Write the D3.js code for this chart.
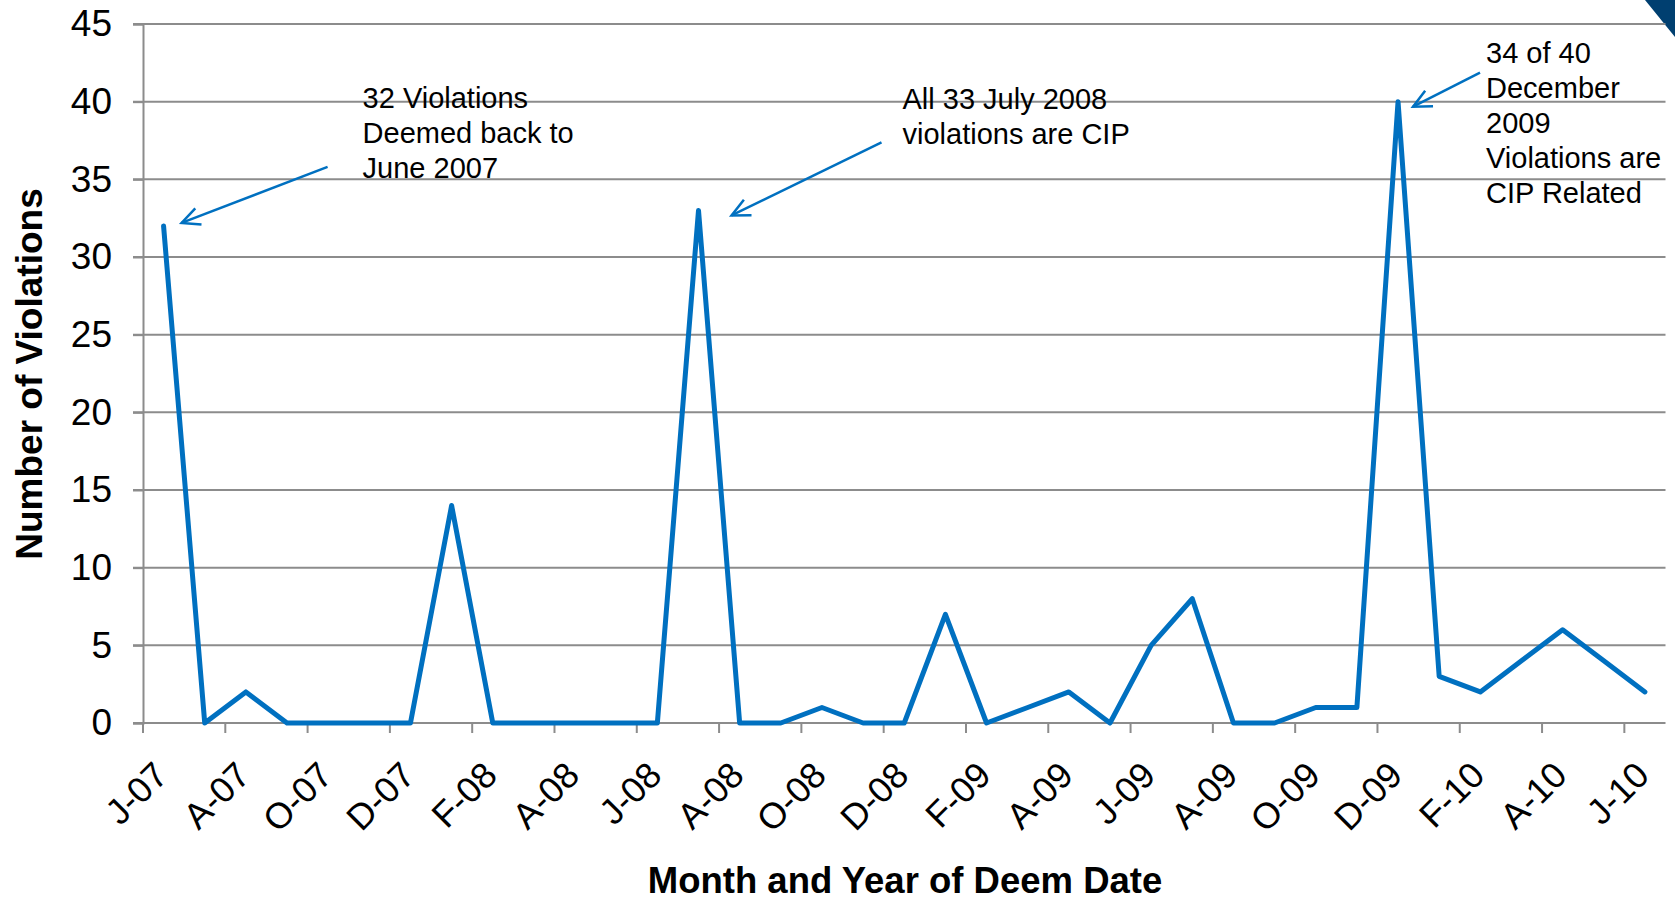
<!DOCTYPE html>
<html>
<head>
<meta charset="utf-8">
<script src="https://cdn.jsdelivr.net/npm/d3@7"></script>
<style>
  body { margin: 0; background: #fff; }
  svg { display: block; font-family: "Liberation Sans", Arial, sans-serif; }
</style>
</head>
<body>
<div id="chart"></div>
<script>
(function () {

  // monthly deem dates, June 2007 through June 2010
  const months = ['Jun-07','Jul-07','Aug-07','Sep-07','Oct-07','Nov-07','Dec-07',
    'Jan-08','Feb-08','Mar-08','Apr-08','May-08','Jun-08','Jul-08','Aug-08','Sep-08','Oct-08','Nov-08','Dec-08',
    'Jan-09','Feb-09','Mar-09','Apr-09','May-09','Jun-09','Jul-09','Aug-09','Sep-09','Oct-09','Nov-09','Dec-09',
    'Jan-10','Feb-10','Mar-10','Apr-10','May-10','Jun-10']

  const violations = [32, 0, 2, 0, 0, 0, 0,
    14, 0, 0, 0, 0, 0, 33, 0, 0, 1, 0, 0,
    7, 0, 1, 2, 0, 5, 8, 0, 0, 1, 1, 40,
    3, 2, 4, 6, 4, 2]

  // every second month gets a label: first letter + year
  const tickLabels = ['J-07','A-07','O-07','D-07','F-08','A-08','J-08','A-08','O-08','D-08',
    'F-09','A-09','J-09','A-09','O-09','D-09','F-10','A-10','J-10']

  const yTicks = [0, 5, 10, 15, 20, 25, 30, 35, 40, 45]

  const notes = [
    { month: 'Jun-07', value: 32, lines: ['32 Violations', 'Deemed back to', 'June 2007'] },
    { month: 'Jul-08', value: 33, lines: ['All 33 July 2008', 'violations are CIP'] },
    { month: 'Dec-09', value: 40, lines: ['34 of 40', 'December', '2009', 'Violations are', 'CIP Related'] }
  ]

  const margin = { top: 24, right: 10, bottom: 180, left: 143 }
  const width = 1675 - margin.left - margin.right
  const height = 903 - margin.top - margin.bottom

  const blue = '#0070c0'
  const gray = '#8c8c8c'

  const root = d3.select('#chart').append('svg')
      .attr('width', 1675)
      .attr('height', 903)

  // dark corner of the slide
  root.append('path')
    .attr('d', 'M1645,0 L1675,0 L1675,37 Z')
    .attr('fill', '#003f70')

  const svg = root.append('g')
      .attr('transform', 'translate(' + margin.left + ',' + margin.top + ')')

  const xScale = d3.scaleBand()
    .domain(months)
    .range([0, 1522.5])

  const yScale = d3.scaleLinear()
    .domain([0, 45])
    .range([height, 0])

  // gridlines
  svg.append('g')
    .selectAll('line')
    .data(yTicks.filter(d => d > 0))
    .join('line')
    .attr('x1', -10)
    .attr('x2', xScale.range()[1])
    .attr('y1', d => yScale(d))
    .attr('y2', d => yScale(d))
    .attr('stroke', gray)
    .attr('stroke-width', 2)

  // y axis
  const yAxis = d3.axisLeft(yScale)
    .tickValues(yTicks)
    .tickSize(10)
    .tickPadding(21)
  const yg = svg.append('g')
    .attr('class', 'axis y-axis')
    .call(yAxis)
  yg.select('.domain').attr('stroke', gray).attr('stroke-width', 2)
  yg.selectAll('.tick line').attr('stroke', gray).attr('stroke-width', 2)
  yg.selectAll('.tick text')
    .attr('font-size', 37)
    .attr('fill', '#000')
    .attr('font-family', '"Liberation Sans", Arial, sans-serif')

  // x axis, ticks between every second month
  const tickMonths = months.filter((d, i) => i % 2 === 0)
  const xg = svg.append('g')
    .attr('class', 'axis x-axis')
    .attr('transform', 'translate(0,' + height + ')')
  xg.append('line')
    .attr('x1', -10)
    .attr('x2', xScale.range()[1])
    .attr('stroke', gray)
    .attr('stroke-width', 2)
  xg.selectAll('.xtick')
    .data(tickMonths)
    .join('line')
    .attr('class', 'xtick')
    .attr('x1', d => xScale(d))
    .attr('x2', d => xScale(d))
    .attr('y1', 0)
    .attr('y2', 10)
    .attr('stroke', gray)
    .attr('stroke-width', 2)
  xg.selectAll('.xlabel')
    .data(tickMonths)
    .join('text')
    .attr('class', 'xlabel')
    .attr('text-anchor', 'end')
    .attr('font-size', 36)
    .attr('transform', d => 'translate(' + (xScale(d) + xScale.bandwidth() / 2 - 12) + ',36) rotate(-45)')
    .attr('dy', '0.72em')
    .text((d, i) => tickLabels[i])

  // the series
  const line = d3.line()
    .x(d => xScale(d.month) + xScale.bandwidth() / 2)
    .y(d => yScale(d.value))

  const points = months.map((m, i) => ({ month: m, value: violations[i] }))

  svg.append('path')
    .datum(points)
    .attr('d', line)
    .attr('fill', 'none')
    .attr('stroke', blue)
    .attr('stroke-width', 5)
    .attr('stroke-linejoin', 'round')
    .attr('stroke-linecap', 'round')

  // annotations: text and arrow placed relative to the point they point at
  const noteOffsets = [
    { tx: 199, ty: -118, ax: 164, ay: -59, ex: 18, ey: -3 },
    { tx: 204, ty: -101, ax: 183, ay: -68, ex: 33, ey: 5 },
    { tx: 88, ty: -39, ax: 82, ay: -29, ex: 15, ey: 5 }
  ]

  notes.forEach((n, i) => {
    const o = noteOffsets[i]
    const px = xScale(n.month) + xScale.bandwidth() / 2
    const py = yScale(n.value)

    svg.append('text')
      .attr('x', px + o.tx)
      .attr('y', py + o.ty)
      .attr('font-size', 29)
      .attr('fill', '#000')
      .selectAll('tspan')
      .data(n.lines)
      .join('tspan')
      .attr('x', px + o.tx)
      .attr('dy', (d, j) => j === 0 ? 0 : 35)
      .text(d => d)

    const x1 = px + o.ax, y1 = py + o.ay
    const x2 = px + o.ex, y2 = py + o.ey
    const ang = Math.atan2(y2 - y1, x2 - x1)
    const head = 20, spread = 0.45
    svg.append('line')
      .attr('x1', x1).attr('y1', y1)
      .attr('x2', x2).attr('y2', y2)
      .attr('stroke', blue)
      .attr('stroke-width', 2.5)
    svg.append('path')
      .attr('d', 'M' + (x2 - head * Math.cos(ang - spread)) + ',' + (y2 - head * Math.sin(ang - spread)) +
        'L' + x2 + ',' + y2 +
        'L' + (x2 - head * Math.cos(ang + spread)) + ',' + (y2 - head * Math.sin(ang + spread)))
      .attr('fill', 'none')
      .attr('stroke', blue)
      .attr('stroke-width', 2.5)
  })

  // axis titles
  root.append('text')
    .attr('transform', 'translate(42,374) rotate(-90)')
    .attr('text-anchor', 'middle')
    .attr('font-size', 37)
    .attr('font-weight', 'bold')
    .text('Number of Violations')

  root.append('text')
    .attr('x', 905)
    .attr('y', 893)
    .attr('text-anchor', 'middle')
    .attr('font-size', 36.5)
    .attr('font-weight', 'bold')
    .text('Month and Year of Deem Date')

})();
</script>
</body>
</html>
